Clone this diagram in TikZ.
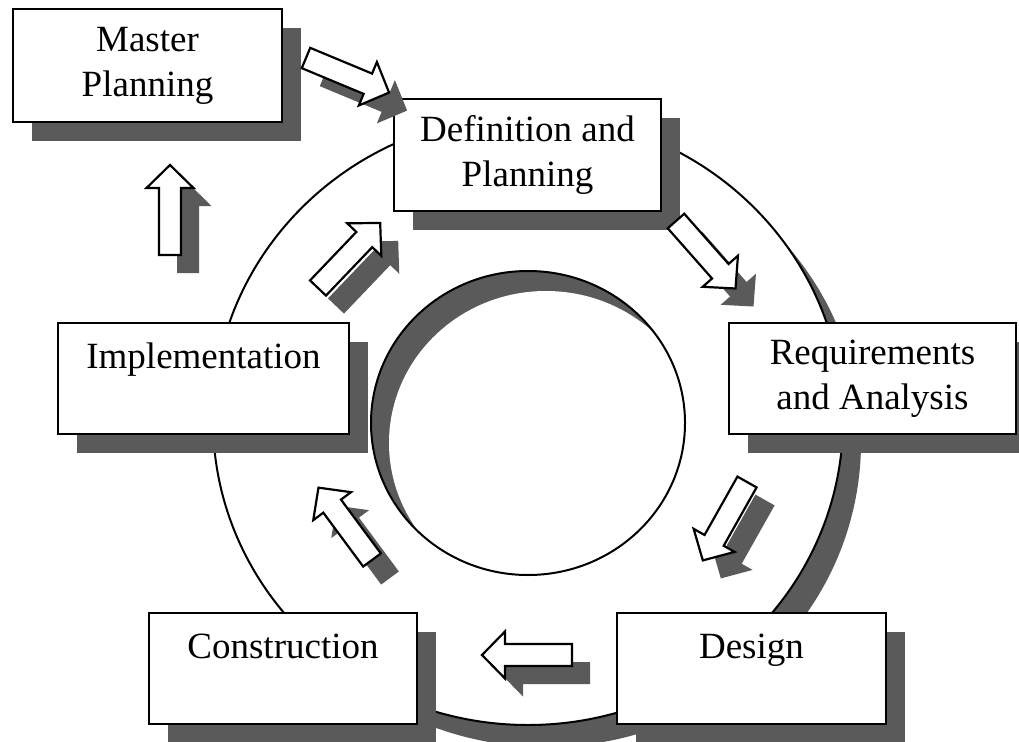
\documentclass[tikz,border=0pt]{standalone}
\usepackage{fontspec}
\setmainfont{Liberation Serif}
\usetikzlibrary{shadows}
\definecolor{sgray}{RGB}{90,90,90}
\tikzset{
  box/.style={draw, line width=2pt, fill=white, inner sep=0pt, align=center,
    anchor=north west, font=\fontsize{37}{45}\selectfont,
    drop shadow={shadow xshift=19pt, shadow yshift=-19pt, fill=sgray, opacity=1}},
  arrowline/.style={draw=black, fill=white, line width=2.2pt, line join=miter},
  arrowshadow/.style={fill=sgray, draw=none},
  ring/.style={draw=black, line width=2pt},
}
\newcommand\blockarrow[3]{%
  \coordinate (#1) at (#2);
  \begin{scope}[shift={(#1)}]
    \begin{scope}[xshift=18pt, yshift=-18pt, rotate=#3]
      \path[arrowshadow] (0,-11) -- (67,-11) -- (67,-23.5) -- (90,0) -- (67,23.5) -- (67,11) -- (0,11) -- cycle;
    \end{scope}
    \begin{scope}[rotate=#3]
      \path[arrowline] (0,-11) -- (67,-11) -- (67,-23.5) -- (90,0) -- (67,23.5) -- (67,11) -- (0,11) -- cycle;
    \end{scope}
  \end{scope}}
\begin{document}
\begin{tikzpicture}[x=1pt,y=1pt]
\useasboundingbox[fill=white] (0,0) rectangle (1019,-741);
% outer ring
\path[fill=sgray] (546,-442) ellipse [x radius=315, y radius=305];
\path[ring, fill=white] (528,-420) ellipse [x radius=315, y radius=305];
% inner circle with inset shadow
\path[fill=sgray] (528,-423) ellipse [x radius=157, y radius=152];
\begin{scope}
  \clip (528,-423) ellipse [x radius=157, y radius=152];
  \path[fill=white] (546,-443) ellipse [x radius=157, y radius=152];
\end{scope}
\path[ring] (528,-423) ellipse [x radius=157, y radius=152];
% boxes
\node[box, minimum width=269pt, minimum height=113pt] (master) at (12,-8) {Master\\Planning};
\node[box, minimum width=267pt, minimum height=112pt] (def) at (393,-98) {Definition and\\Planning};
\node[box, minimum width=287pt, minimum height=111pt] (req) at (728,-322) {Requirements\\and Analysis};
\node[box, minimum width=291pt, minimum height=111pt] (impl) at (57,-322) {Implementation\\\mbox{}};
\node[box, minimum width=268pt, minimum height=111pt] (constr) at (148,-612) {Construction\\\mbox{}};
\node[box, minimum width=269pt, minimum height=111pt] (design) at (616,-612) {Design\\\mbox{}};
% block arrows
\blockarrow{a1}{306,-58}{-22.6}
\blockarrow{a2}{170,-255}{90}
\blockarrow{a3}{318,-288}{46.3}
\blockarrow{a4}{676,-221}{-48.6}
\blockarrow{a5}{747,-482}{-119.4}
\blockarrow{a6}{572,-655}{180}
\blockarrow{a7}{372,-560}{126.5}
\end{tikzpicture}
\end{document}
